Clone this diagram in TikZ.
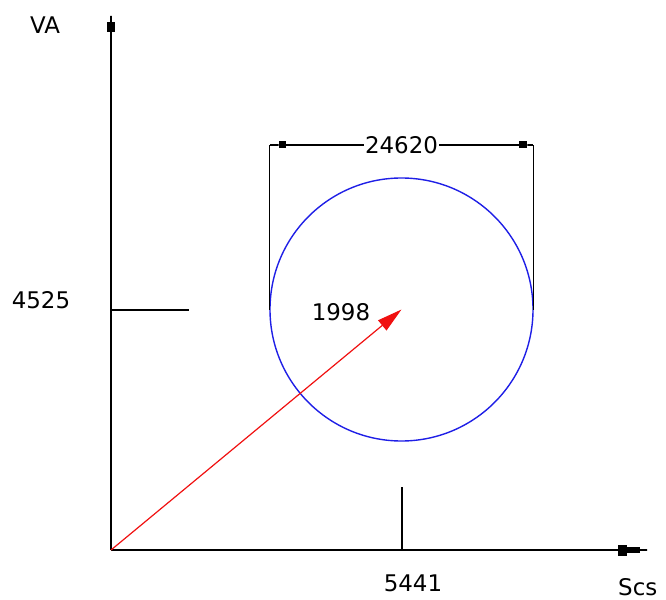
\documentclass[tikz,border=0pt]{standalone}
\usepackage{fontspec}
\setsansfont{DejaVu Sans}
\usetikzlibrary{arrows.meta,positioning}
\definecolor{circBlue}{HTML}{1F1FE6}
\definecolor{vecRed}{HTML}{F01010}

\begin{document}
\begin{tikzpicture}[x=1bp,y=-1bp,
  axis/.style={line width=2bp},
  dimln/.style={line width=1.5bp},
  label/.style={font=\sffamily\fontsize{23}{26}\selectfont,inner sep=0pt}
]
  \useasboundingbox (0,0) rectangle (666,600);
  \coordinate (o) at (111,550);
  \coordinate (ytop) at (111,15);
  \coordinate (xend) at (648,550);
  \draw[axis,-{Rectangle[length=10bp,width=8bp]Rectangle[length=7bp,width=2bp]}] (o) -- (ytop);
  \draw[axis,-{Rectangle[length=9bp,width=11bp]Rectangle[length=13bp,width=6bp]Rectangle[length=8bp,width=2bp]}] (o) -- (xend);
  \node[draw=circBlue,line width=1.4bp,circle,minimum size=263bp,inner sep=0pt] (circ) at (401.5,309.5) {};
  % dimension
  \coordinate (dimy) at (0,145);
  \draw[dimln] (circ.west) -- (circ.west |- dimy);
  \draw[dimln] (circ.east) -- (circ.east |- dimy);
  \draw[dimln,{Rectangle[length=10bp,width=1.5bp]Rectangle[length=7bp,width=7bp]}-{Rectangle[length=8bp,width=7bp]Rectangle[length=7bp,width=1.5bp]}] (circ.west |- dimy) -- node[label,fill=white,inner sep=1bp] (dim) {24620} (circ.east |- dimy);
  % ticks
  \coordinate (yt) at (189,310);
  \coordinate (xt) at (402,487);
  \draw[dimln] (o |- yt) -- (yt);
  \draw[dimln] (xt) -- (xt |- o);
  \draw[vecRed,line width=1.2bp,-{Triangle[length=25bp,width=13bp]}] (o) -- (circ.center);
  \node[label] (va) at (45,25) {VA};
  \node[label] (ylab) at (41,300) {4525};
  \node[label] (xlab) at (413,583) {5441};
  \node[label,anchor=west] (scs) at (618,587) {Scs};
  \node[label] (vec) at (341,312) {1998};
\end{tikzpicture}
\end{document}
